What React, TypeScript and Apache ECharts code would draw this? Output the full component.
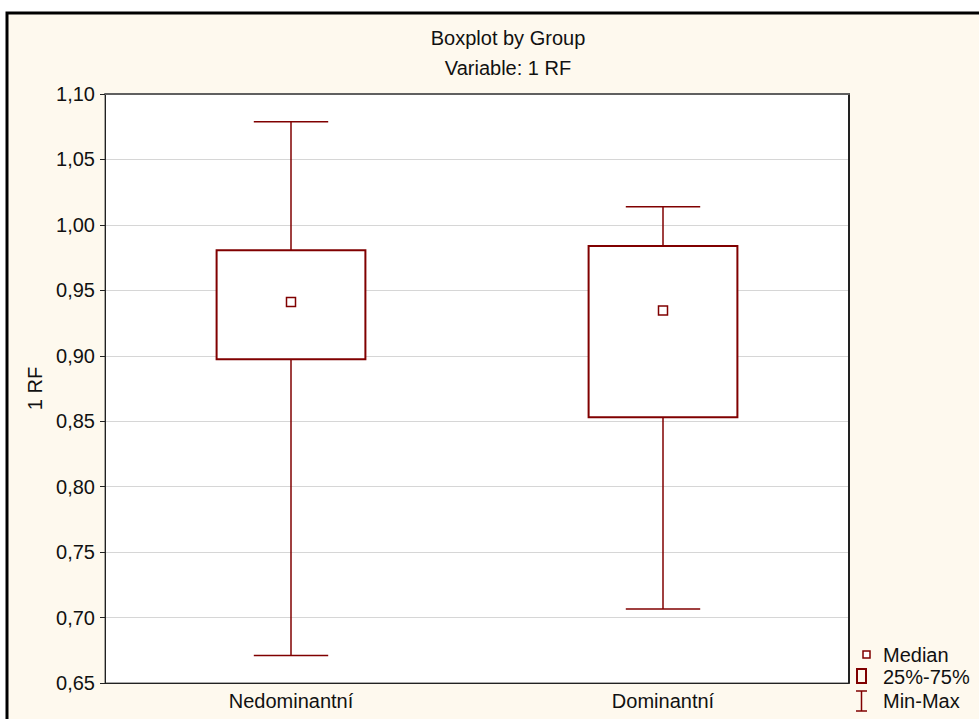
import React, { useEffect, useRef } from "react";
import * as echarts from "echarts";

const categories = ["Nedominantní", "Dominantní"];
const minValues = [0.671, 0.7065];
const q1Values = [0.8974, 0.853];
const medianValues = [0.941, 0.9346];
const q3Values = [0.9807, 0.9838];
const maxValues = [1.0788, 1.0138];
const yTicks = { min: 0.65, max: 1.1, interval: 0.05 };
const legendLabels = ["Median", "25%-75%", "Min-Max"];

const RED = "#800000";
const FONT = "'Liberation Sans', Arial, sans-serif";
const FS = 20;

export default function App() {
  const ref = useRef<HTMLDivElement>(null);
  useEffect(() => {
    if (!ref.current) return;
    const chart = echarts.init(ref.current, undefined, { renderer: "svg" });
    const data = categories.map((_, i) => [i, minValues[i], q1Values[i], medianValues[i], q3Values[i], maxValues[i]]);
    const option: any = {
      animation: false,
      backgroundColor: "#ffffff",
      textStyle: { fontFamily: FONT },
      title: [
        { text: "Boxplot by Group", left: 503, top: 23, textAlign: "center", textStyle: { fontFamily: FONT, fontSize: FS, fontWeight: "normal", color: "#111" } },
        { text: "Variable: 1 RF", left: 503, top: 53, textAlign: "center", textStyle: { fontFamily: FONT, fontSize: FS, fontWeight: "normal", color: "#111" } },
      ],
      grid: { left: 105, right: 130, top: 94, bottom: 36, show: true, backgroundColor: "#ffffff", borderColor: "#555", borderWidth: 1 },
      xAxis: [
        {
          type: "category",
          data: categories,
          boundaryGap: true,
          axisLine: { lineStyle: { color: "#222", width: 1 } },
          axisTick: { inside: true, alignWithLabel: true, length: 4, lineStyle: { color: "#222" } },
          axisLabel: { fontFamily: FONT, fontSize: FS, color: "#111", margin: 8 },
          splitLine: { show: false },
        },
        {
          type: "category",
          data: categories,
          position: "top",
          boundaryGap: true,
          axisLine: { lineStyle: { color: "#606060", width: 2 } },
          axisTick: { inside: true, alignWithLabel: true, length: 4, lineStyle: { color: "#222" } },
          axisLabel: { show: false },
          splitLine: { show: false },
        },
      ],
      yAxis: [
        {
          type: "value",
          min: yTicks.min,
          max: yTicks.max,
          interval: yTicks.interval,
          name: "1 RF",
          nameLocation: "middle",
          nameGap: 57,
          nameTextStyle: { fontFamily: FONT, fontSize: FS, color: "#111" },
          axisLine: { show: true, lineStyle: { color: "#222", width: 1 } },
          axisTick: { show: true, inside: false, length: 5, lineStyle: { color: "#222" } },
          axisLabel: { fontFamily: FONT, fontSize: FS, color: "#111", margin: 10, formatter: (v: number) => v.toFixed(2).replace(".", ",") },
          splitLine: { show: true, lineStyle: { color: "#d6d6d6", width: 1 } },
        },
        {
          type: "value",
          min: yTicks.min,
          max: yTicks.max,
          interval: yTicks.interval,
          position: "right",
          axisLine: { show: true, lineStyle: { color: "#222", width: 2 } },
          axisTick: { show: false },
          axisLabel: { show: false },
          splitLine: { show: false },
        },
      ],
      graphic: [
        { type: "rect", z: -100, shape: { x: 7, y: 13, width: 1100, height: 900 }, style: { fill: "#fef9ee", stroke: "#000", lineWidth: 3 } },
        { type: "rect", z: 100, shape: { x: 863, y: 651, width: 7, height: 7 }, style: { fill: "#fff", stroke: RED, lineWidth: 1.5 } },
        { type: "rect", z: 100, shape: { x: 857, y: 669, width: 9, height: 14 }, style: { fill: "none", stroke: RED, lineWidth: 2 } },
        { type: "line", z: 100, shape: { x1: 856, y1: 691, x2: 867, y2: 691 }, style: { stroke: RED, lineWidth: 1.5 } },
        { type: "line", z: 100, shape: { x1: 861.5, y1: 691, x2: 861.5, y2: 711 }, style: { stroke: RED, lineWidth: 1.5 } },
        { type: "line", z: 100, shape: { x1: 856, y1: 711, x2: 867, y2: 711 }, style: { stroke: RED, lineWidth: 1.5 } },
        ...legendLabels.map((t, i) => ({
          type: "text",
          z: 100,
          x: 883,
          y: [655, 677, 701][i],
          style: { text: t, fontFamily: FONT, fontSize: FS, fill: "#111", textVerticalAlign: "middle", verticalAlign: "middle" },
        })),
      ],
      series: [
        {
          type: "custom",
          xAxisIndex: 0,
          yAxisIndex: 0,
          encode: { x: 0, y: [1, 2, 3, 4, 5] },
          data,
          renderItem: (params: any, api: any) => {
            const x = api.value(0);
            const band = api.size([1, 0])[0];
            const pMin = api.coord([x, api.value(1)]);
            const pQ1 = api.coord([x, api.value(2)]);
            const pMed = api.coord([x, api.value(3)]);
            const pQ3 = api.coord([x, api.value(4)]);
            const pMax = api.coord([x, api.value(5)]);
            const cx = pMin[0];
            const bw = band * 0.4;
            const cw = band * 0.2;
            const thin = { stroke: RED, lineWidth: 1.5 };
            return {
              type: "group",
              children: [
                { type: "line", shape: { x1: cx, y1: pMax[1], x2: cx, y2: pQ3[1] }, style: thin },
                { type: "line", shape: { x1: cx, y1: pQ1[1], x2: cx, y2: pMin[1] }, style: thin },
                { type: "line", shape: { x1: cx - cw / 2, y1: pMax[1], x2: cx + cw / 2, y2: pMax[1] }, style: thin },
                { type: "line", shape: { x1: cx - cw / 2, y1: pMin[1], x2: cx + cw / 2, y2: pMin[1] }, style: thin },
                { type: "rect", shape: { x: cx - bw / 2, y: pQ3[1], width: bw, height: pQ1[1] - pQ3[1] }, style: { fill: "#fff", stroke: RED, lineWidth: 2 } },
                { type: "rect", shape: { x: cx - 4.5, y: pMed[1] - 4.5, width: 9, height: 9 }, style: { fill: "#fff", stroke: RED, lineWidth: 1.5 } },
              ],
            };
          },
        },
      ],
    };
    chart.setOption(option);
    return () => chart.dispose();
  }, []);
  return <div ref={ref} style={{ position: "fixed", left: 0, top: 0, width: 979, height: 719 }} />;
}
